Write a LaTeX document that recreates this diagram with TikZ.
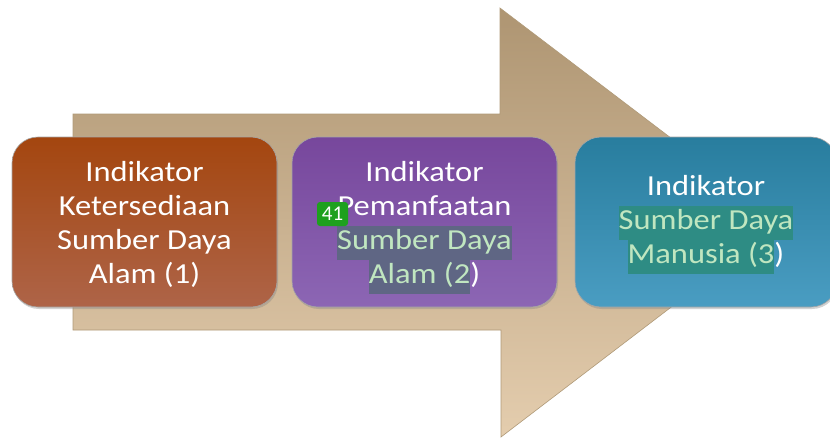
\documentclass[tikz,border=0pt]{standalone}
\usepackage{fontspec}
\setmainfont{Carlito}[FakeStretch=1.12]
\newfontfamily\badgefont{Carlito}
\usetikzlibrary{shadows}
\definecolor{arrtop}{HTML}{AE9572}
\definecolor{arrbot}{HTML}{E4CDAE}
\definecolor{arredge}{HTML}{B09A78}
\definecolor{oratop}{HTML}{A4460F}
\definecolor{orabot}{HTML}{AE6448}
\definecolor{purtop}{HTML}{77479C}
\definecolor{purbot}{HTML}{8C66B4}
\definecolor{blutop}{HTML}{287D9E}
\definecolor{blubot}{HTML}{4A9DC2}
\definecolor{hlgray}{HTML}{5F6684}
\definecolor{hlteal}{HTML}{2E8C84}
\definecolor{hltext}{HTML}{C0E6C0}
\definecolor{badge}{HTML}{1EA01E}
\newcommand{\hlbox}[2]{{\setlength\fboxsep{0pt}\colorbox{#1}{\strut\textcolor{hltext}{#2}}}}
\tikzset{
  card/.style={rounded corners=26pt, minimum width=265pt, minimum height=170pt,
    inner sep=0pt, draw=black!35, line width=0.6pt,
    drop shadow={shadow xshift=1pt, shadow yshift=-2pt, opacity=0.35}},
  cardtext/.style={inner sep=0pt, align=center, text=white,
    font=\fontsize{29}{34}\selectfont},
  arrowshape/.style={top color=arrtop, bottom color=arrbot, draw=arredge, line width=0.6pt},
  badgebox/.style={fill=badge, rounded corners=3pt, minimum width=31pt, minimum height=24pt,
    inner sep=0pt, text=white, font=\badgefont\fontsize{21}{21}\selectfont}
}
\begin{document}
\begin{tikzpicture}[x=1pt,y=-1pt]
\useasboundingbox (0,0) rectangle (830,437);
\fill[white] (0,0) rectangle (830,437);
% big arrow
\path[arrowshape] (73,114) -- (500,114) -- (500,8) -- (782,222.5) -- (501,437) -- (501,330) -- (73,330) -- cycle;
% cards
\node[card, top color=oratop, bottom color=orabot] (c1) at (144.5,222) {};
\node[card, top color=purtop, bottom color=purbot] (c2) at (424.5,222) {};
\node[card, top color=blutop, bottom color=blubot, minimum width=262pt] (c3) at (706,222) {};
\node[cardtext] (t1) at (144.5,224)
  {Indikator\\Ketersediaan\\Sumber Daya\\Alam (1)};
\node[cardtext] (t2) at (424.5,228)
  {Indikator\\Pemanfaatan\\\hlbox{hlgray}{Sumber Daya}\\\hlbox{hlgray}{Alam (2}{)}};
\node[cardtext] (t3) at (706,225)
  {Indikator\\\hlbox{hlteal}{Sumber Daya}\\\hlbox{hlteal}{Manusia (3}{)}};
% badge
\node[badgebox] (b41) at (332.5,214) {41};
\end{tikzpicture}
\end{document}
